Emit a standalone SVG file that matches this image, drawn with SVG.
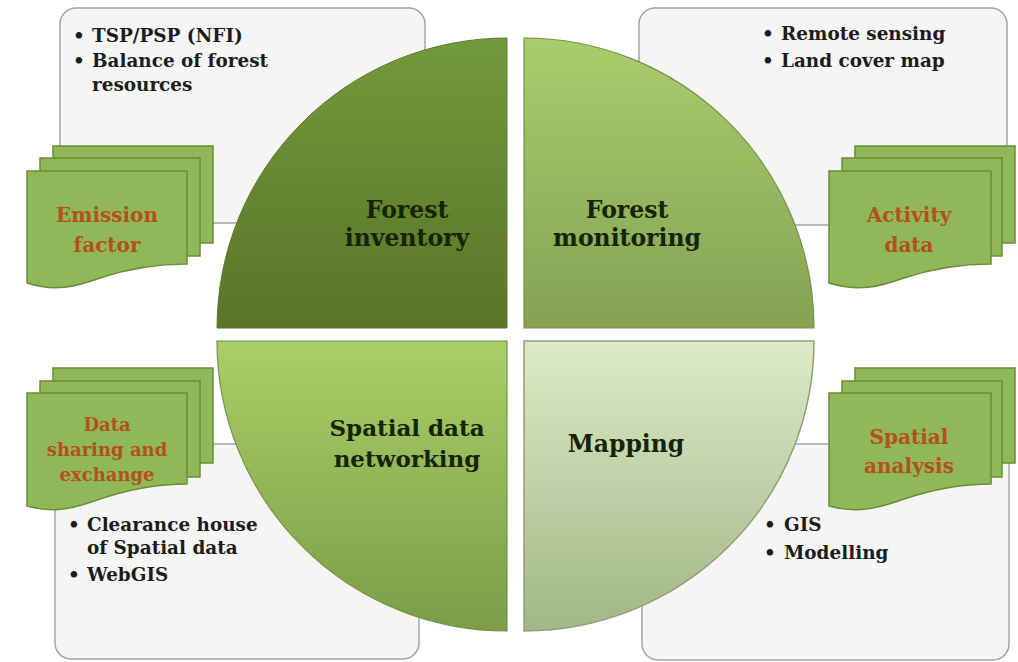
<svg xmlns="http://www.w3.org/2000/svg" width="1018" height="662" viewBox="0 0 1018 662">
<defs>
<linearGradient id="gTL" x1="0" y1="0" x2="0" y2="1"><stop offset="0" stop-color="#729a3a"/><stop offset="1" stop-color="#5a7428"/></linearGradient>
<linearGradient id="gTR" x1="0" y1="0" x2="0" y2="1"><stop offset="0" stop-color="#a9cd6c"/><stop offset="1" stop-color="#84a253"/></linearGradient>
<linearGradient id="gBL" x1="0" y1="0" x2="0" y2="1"><stop offset="0" stop-color="#a9cf66"/><stop offset="1" stop-color="#7b9d47"/></linearGradient>
<linearGradient id="gBR" x1="0" y1="0" x2="0" y2="1"><stop offset="0" stop-color="#dcebc6"/><stop offset="1" stop-color="#a1b787"/></linearGradient>
</defs>
<style>
.panel{fill:#f5f5f3;stroke:#a3a3a0;stroke-width:1.5}
.doc{fill:#8fb858;stroke:#6b8c38;stroke-width:1.5}
.bul{font-family:"DejaVu Serif","Liberation Serif",serif;font-weight:bold;font-size:18.4px;fill:#1c1c1c}
.lab{font-family:"DejaVu Serif","Liberation Serif",serif;font-weight:bold;font-size:23.5px;fill:#16240a;text-anchor:middle}
.dl{font-family:"DejaVu Serif","Liberation Serif",serif;font-weight:bold;font-size:20px;fill:#b5501a;text-anchor:middle}
.dls{font-size:18px}
</style>
<rect width="1018" height="662" fill="#ffffff"/>
<g id="connectors"></g>
<g id="panel-tl"><rect class="panel" x="60" y="8" width="365" height="215" rx="16"/>
<text class="bul" x="73" y="42">•</text><text class="bul" x="92" y="42">TSP/PSP (NFI)</text>
<text class="bul" x="73" y="67">•</text><text class="bul" x="92" y="67">Balance of forest</text>
<text class="bul" x="92" y="91">resources</text></g>
<g id="panel-tr"><rect class="panel" x="639" y="8" width="368" height="217" rx="16"/>
<text class="bul" x="762" y="40">•</text><text class="bul" x="781" y="40">Remote sensing</text>
<text class="bul" x="762" y="67">•</text><text class="bul" x="781" y="67">Land cover map</text></g>
<g id="panel-bl"><rect class="panel" x="55" y="444" width="364" height="215" rx="16"/>
<text class="bul" x="68" y="531">•</text><text class="bul" x="87" y="531">Clearance house</text>
<text class="bul" x="87" y="554">of Spatial data</text>
<text class="bul" x="68" y="581">•</text><text class="bul" x="87" y="581">WebGIS</text></g>
<g id="panel-br"><rect class="panel" x="642" y="444" width="367" height="216" rx="16"/>
<text class="bul" x="764" y="531">•</text><text class="bul" x="784" y="531">GIS</text>
<text class="bul" x="764" y="559">•</text><text class="bul" x="784" y="559">Modelling</text></g>
<g id="q-forest-inventory"><path d="M507,328 L217,328 A290,290 0 0 1 507,38 Z" fill="url(#gTL)" stroke="#5d7a2c" stroke-width="1"/>
<text class="lab" x="407" y="218">Forest</text><text class="lab" x="407" y="246">inventory</text></g>
<g id="q-forest-monitoring"><path d="M524,328 L524,38 A290,290 0 0 1 814,328 Z" fill="url(#gTR)" stroke="#76914a" stroke-width="1.2"/>
<text class="lab" x="627" y="218">Forest</text><text class="lab" x="627" y="246">monitoring</text></g>
<g id="q-spatial-data-networking"><path d="M507,341 L507,631 A290,290 0 0 1 217,341 Z" fill="url(#gBL)" stroke="#76914a" stroke-width="1.2"/>
<text class="lab" x="407" y="436" style="font-size:23px">Spatial data</text><text class="lab" x="407" y="467" style="font-size:23px">networking</text></g>
<g id="q-mapping"><path d="M524,341 L814,341 A290,290 0 0 1 524,631 Z" fill="url(#gBR)" stroke="#8e9f7a" stroke-width="1.5"/>
<text class="lab" x="626" y="452">Mapping</text></g>
<g id="doc-emission-factor">
<rect class="doc" x="53" y="146" width="160" height="97"/>
<rect class="doc" x="40" y="158" width="160" height="98"/>
<path class="doc" d="M27,171 L187,171 L187,264 C160,264 130,268 100,278 C75,287 55,292 27,283 Z"/>
<text class="dl" x="107" y="222">Emission</text><text class="dl" x="107" y="252">factor</text></g>
<g id="doc-activity-data">
<rect class="doc" x="855" y="146" width="160" height="97"/>
<rect class="doc" x="842" y="158" width="160" height="98"/>
<path class="doc" d="M829,171 L991,171 L991,264 C964,264 934,268 904,278 C879,287 858,292 829,283 Z"/>
<text class="dl" x="909" y="222">Activity</text><text class="dl" x="909" y="252">data</text></g>
<g id="doc-data-sharing">
<rect class="doc" x="53" y="368" width="160" height="95"/>
<rect class="doc" x="40" y="381" width="160" height="96"/>
<path class="doc" d="M27,393 L187,393 L187,484 C160,484 130,489 100,499 C75,508 55,514 27,506 Z"/>
<text class="dl dls" x="107" y="431">Data</text><text class="dl dls" x="107" y="456">sharing and</text><text class="dl dls" x="107" y="481">exchange</text></g>
<g id="doc-spatial-analysis">
<rect class="doc" x="855" y="368" width="160" height="95"/>
<rect class="doc" x="842" y="381" width="160" height="96"/>
<path class="doc" d="M829,393 L991,393 L991,484 C964,484 934,489 904,499 C879,508 858,514 829,506 Z"/>
<text class="dl" x="909" y="444">Spatial</text><text class="dl" x="909" y="473">analysis</text></g>
</svg>
